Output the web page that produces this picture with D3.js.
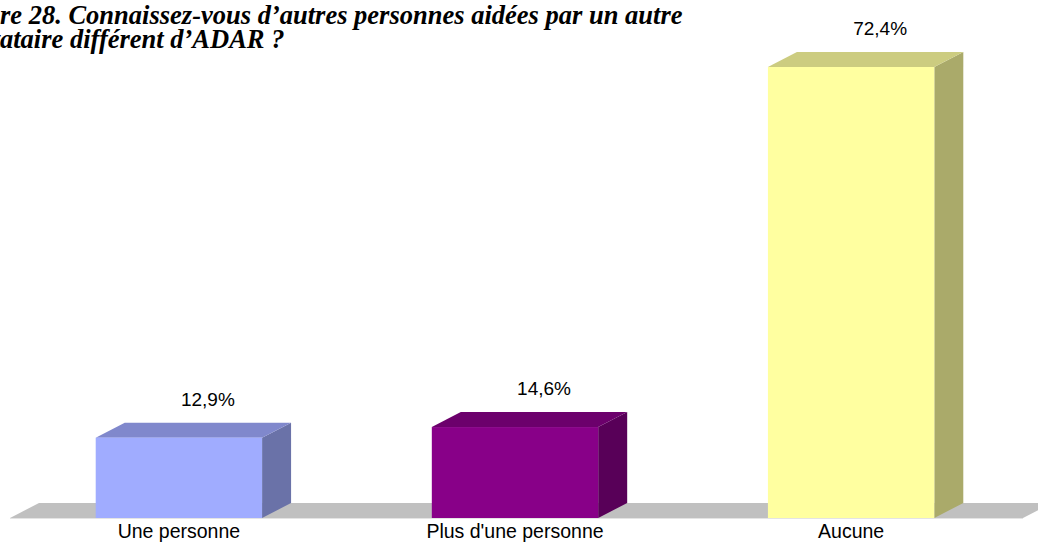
<!DOCTYPE html>
<html>
<head>
<meta charset="utf-8">
<script src="https://cdn.jsdelivr.net/npm/d3@7"></script>
<style>
  html, body { margin: 0; padding: 0; background: #fff; overflow: hidden; }
  svg { display: block; }
</style>
</head>
<body>
<svg id="chart" width="1038" height="542"></svg>
<script>
// Survey answers and their shares (%)
const categories = ["Une personne", "Plus d'une personne", "Aucune"];
const values = [12.9, 14.6, 72.4];
const valueLabels = ["12,9%", "14,6%", "72,4%"];
const titleLines = [
  "Figure 28. Connaissez-vous d\u2019autres personnes aid\u00e9es par un autre",
  "prestataire diff\u00e9rent d\u2019ADAR ?"
];

// Face colours for each bar: front, top, side
const palette = [
  { front: "#A0ACFF", top: "#8088CC", side: "#6A72A8" },
  { front: "#880088", top: "#6C006C", side: "#580058" },
  { front: "#FFFFA0", top: "#CCCC80", side: "#AAAA6A" }
];

const W = 1038, H = 542;
const baseY = 518;          // front edge of the floor
const depthX = 29, depthY = 15; // 3D depth offset

const svg = d3.select("#chart");

const x = d3.scaleBand()
  .domain(categories)
  .range([10, 1020])
  .paddingInner(0.505)
  .paddingOuter(0.255);

const y = d3.scaleLinear()
  .domain([0, 72.4])
  .range([baseY, 67]);

// Floor
const fx0 = 10, fx1 = 1023;
svg.append("path")
  .attr("d", `M${fx0},${baseY} L${fx0 + depthX},${baseY - depthY} L${fx1 + depthX},${baseY - depthY} L${fx1},${baseY} Z`)
  .attr("fill", "#C0C0C0");
svg.append("line")
  .attr("x1", fx0).attr("x2", fx1)
  .attr("y1", baseY + 0.5).attr("y2", baseY + 0.5)
  .attr("stroke", "#E4E4E4").attr("stroke-width", 1);

// Bars
const bars = svg.append("g").selectAll("g")
  .data(categories.map((c, i) => ({ c, v: values[i], label: valueLabels[i], col: palette[i] })))
  .join("g");

bars.each(function(d) {
  const g = d3.select(this);
  const x0 = x(d.c), x1 = x0 + x.bandwidth();
  const yt = y(d.v), yb = y(0);
  // side face
  g.append("path")
    .attr("d", `M${x1},${yb} L${x1},${yt} L${x1 + depthX},${yt - depthY} L${x1 + depthX},${yb - depthY} Z`)
    .attr("fill", d.col.side);
  // top face
  g.append("path")
    .attr("d", `M${x0},${yt} L${x0 + depthX},${yt - depthY} L${x1 + depthX},${yt - depthY} L${x1},${yt} Z`)
    .attr("fill", d.col.top);
  // front face
  g.append("rect")
    .attr("x", x0).attr("y", yt)
    .attr("width", x.bandwidth()).attr("height", yb - yt)
    .attr("fill", d.col.front);
  // value label
  g.append("text")
    .attr("x", (x0 + x1) / 2 + depthX)
    .attr("y", yt - depthY - 17)
    .attr("text-anchor", "middle")
    .attr("font-family", "'Liberation Sans', Arial, sans-serif")
    .attr("font-size", 19)
    .attr("fill", "#000")
    .text(d.label);
});

// Category labels
svg.append("g").selectAll("text")
  .data(categories)
  .join("text")
  .attr("x", d => x(d) + x.bandwidth() / 2)
  .attr("y", 538)
  .attr("text-anchor", "middle")
  .attr("font-family", "'Liberation Sans', Arial, sans-serif")
  .attr("font-size", 19.5)
  .attr("fill", "#000")
  .text(d => d);

// Title: the caption starts to the left of the visible area
const titleFont = "'Liberation Serif', 'Times New Roman', serif";
const t1 = svg.append("text")
  .attr("y", 24)
  .attr("font-family", titleFont)
  .attr("font-size", 26.5)
  .attr("font-weight", "bold")
  .attr("font-style", "italic")
  .text(titleLines[0]);
const shift1 = t1.node().getSubStringLength(0, 4);
t1.attr("x", -shift1);

const t2 = svg.append("text")
  .attr("y", 48)
  .attr("font-family", titleFont)
  .attr("font-size", 26.5)
  .attr("font-weight", "bold")
  .attr("font-style", "italic")
  .text(titleLines[1]);
const shift2 = t2.node().getSubStringLength(0, 5);
t2.attr("x", -shift2);
</script>
</body>
</html>
